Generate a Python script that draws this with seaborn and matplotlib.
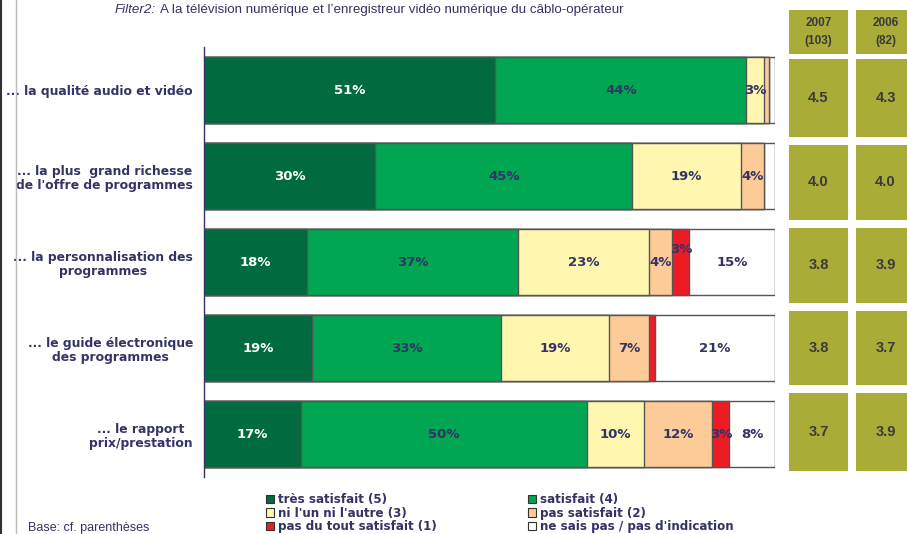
import matplotlib
matplotlib.use("Agg")
import matplotlib.pyplot as plt
from matplotlib.patches import Patch, Rectangle
import numpy as np
import pandas as pd
import seaborn as sns

# --- data ---
categories = [
    "... la qualité audio et vidéo",
    "... la plus  grand richesse\nde l'offre de programmes",
    "... la personnalisation des\nprogrammes",
    "... le guide électronique\ndes programmes",
    "... le rapport\nprix/prestation",
]
series = ["très satisfait (5)", "satisfait (4)", "ni l'un ni l'autre (3)",
          "pas satisfait (2)", "pas du tout satisfait (1)",
          "ne sais pas / pas d'indication"]
tres_satisfait = [51, 30, 18, 19, 17]
satisfait = [44, 45, 37, 33, 50]
ni_ni = [3, 19, 23, 19, 10]
pas_satisfait = [1, 4, 4, 7, 12]
pas_du_tout = [0, 0, 3, 1, 3]
ne_sais_pas = [1, 2, 15, 21, 8]
moy_2007 = ["4.5", "4.0", "3.8", "3.8", "3.7"]
moy_2006 = ["4.3", "4.0", "3.9", "3.7", "3.9"]
col_heads = ["2007\n(103)", "2006\n(82)"]

colors = ["#006B3F", "#00A651", "#FFF6B0", "#FDCB98", "#ED1C24", "#FFFFFF"]
navy = "#333366"
olive = "#A9AD38"

values = np.array([tres_satisfait, satisfait, ni_ni, pas_satisfait,
                   pas_du_tout, ne_sais_pas], dtype=float)
cum = values.cumsum(axis=0)
df = pd.DataFrame({"cat": categories})

sns.set_style("white")
plt.rcParams["font.family"] = ["DejaVu Sans"]

W, H = 907, 534
fig = plt.figure(figsize=(W / 100, H / 100), dpi=100)
ax = fig.add_axes([204 / W, 1 - 477 / H, 571 / W, 430 / H])

# stacked bars: draw cumulative totals from the back to the front
for k in range(len(series) - 1, -1, -1):
    df["v"] = cum[k]
    sns.barplot(data=df, x="v", y="cat", color=colors[k], orient="h",
                width=0.77, edgecolor="#555555", linewidth=1.0,
                saturation=1, ax=ax)

# segment labels
for i in range(len(categories)):
    for k in range(len(series)):
        v = values[k, i]
        if v < 3:
            continue
        xc = cum[k, i] - v / 2
        yoff = -0.14 if (k == 4 and i == 2) else 0
        ax.text(xc, i + yoff, f"{int(v)}%", ha="center", va="center",
                fontsize=9.5, fontweight="bold",
                color="white" if k == 0 else navy)

ax.set_xlim(0, 100)
ax.set_ylim(len(categories) - 0.5, -0.5)
ax.set_xlabel("")
ax.set_ylabel("")
ax.set_xticks([])
for s in ["top", "right", "bottom"]:
    ax.spines[s].set_visible(False)
ax.spines["left"].set_color(navy)
ax.spines["left"].set_linewidth(1.0)
ax.set_yticks(range(len(categories)))
ax.set_yticklabels(categories, fontsize=8.9, fontweight="bold", color=navy,
                   linespacing=1.1)
for lbl in ax.get_yticklabels():
    lbl.set_multialignment("center")
ax.tick_params(axis="y", which="major", length=0, pad=8)
ax.set_yticks(np.arange(-0.5, len(categories), 1), minor=True)
ax.tick_params(axis="y", which="minor", length=4, width=1, color=navy)

# mean score boxes on the right
def box(x0, x1, y0, y1, txt, fs):
    fig.patches.append(Rectangle((x0 / W, 1 - y1 / H), (x1 - x0) / W,
                                 (y1 - y0) / H, transform=fig.transFigure,
                                 facecolor=olive, edgecolor="none"))
    fig.text((x0 + x1) / 2 / W, 1 - (y0 + y1) / 2 / H, txt, ha="center",
             va="center", fontsize=fs, fontweight="bold", color="#3A3A3A",
             family="Liberation Sans", linespacing=1.75)

cols_x = [(789, 848), (856, 915)]
rows_y = [(59, 137), (145, 220), (228, 303), (311, 385), (393, 471)]
for c, (x0, x1) in enumerate(cols_x):
    box(x0, x1, 10, 54, col_heads[c], 8.5)
    vals = moy_2007 if c == 0 else moy_2006
    for r, (y0, y1) in enumerate(rows_y):
        box(x0, x1, y0, y1, vals[r], 10.5)

# header text: italic prefix, then the rest placed right after it
t1 = fig.text(115 / W, 1 - 10 / H, "Filter2:", style="italic", fontsize=9.6,
              color=navy, va="center", family="Liberation Sans")
renderer = fig.canvas.get_renderer()
bb = t1.get_window_extent(renderer)
fig.text((bb.x1 + 4) / W, 1 - 10 / H,
         "A la télévision numérique et l’enregistreur vidéo numérique du câblo-opérateur",
         fontsize=9.6, color=navy, va="center", family="Liberation Sans")

# left frame lines
fig.add_artist(plt.Line2D([1 / W, 1 / W], [0, 1], color="#333333", lw=1.5))
fig.add_artist(plt.Line2D([16 / W, 16 / W], [0, 1], color="#BBBBBB", lw=1))
fig.text(28 / W, 1 - 522 / H, "Base: cf. parenthèses", fontsize=9,
         color=navy, va="top", family="Liberation Sans")

# legends
handles = [Patch(facecolor=colors[k], edgecolor="#333333", linewidth=0.8)
           for k in range(len(series))]
for idx, x in [([0, 2, 4], 266), ([1, 3, 5], 528)]:
    fig.legend([handles[k] for k in idx], [series[k] for k in idx],
               loc="upper left", bbox_to_anchor=(x / W, 1 - 493 / H),
               frameon=False, handlelength=0.7, handleheight=0.7,
               handletextpad=0.3, labelspacing=0.05, borderpad=0,
               borderaxespad=0,
               prop={"size": 8.6, "weight": "bold"}, labelcolor=navy)

fig.savefig("out.png", dpi=100)
